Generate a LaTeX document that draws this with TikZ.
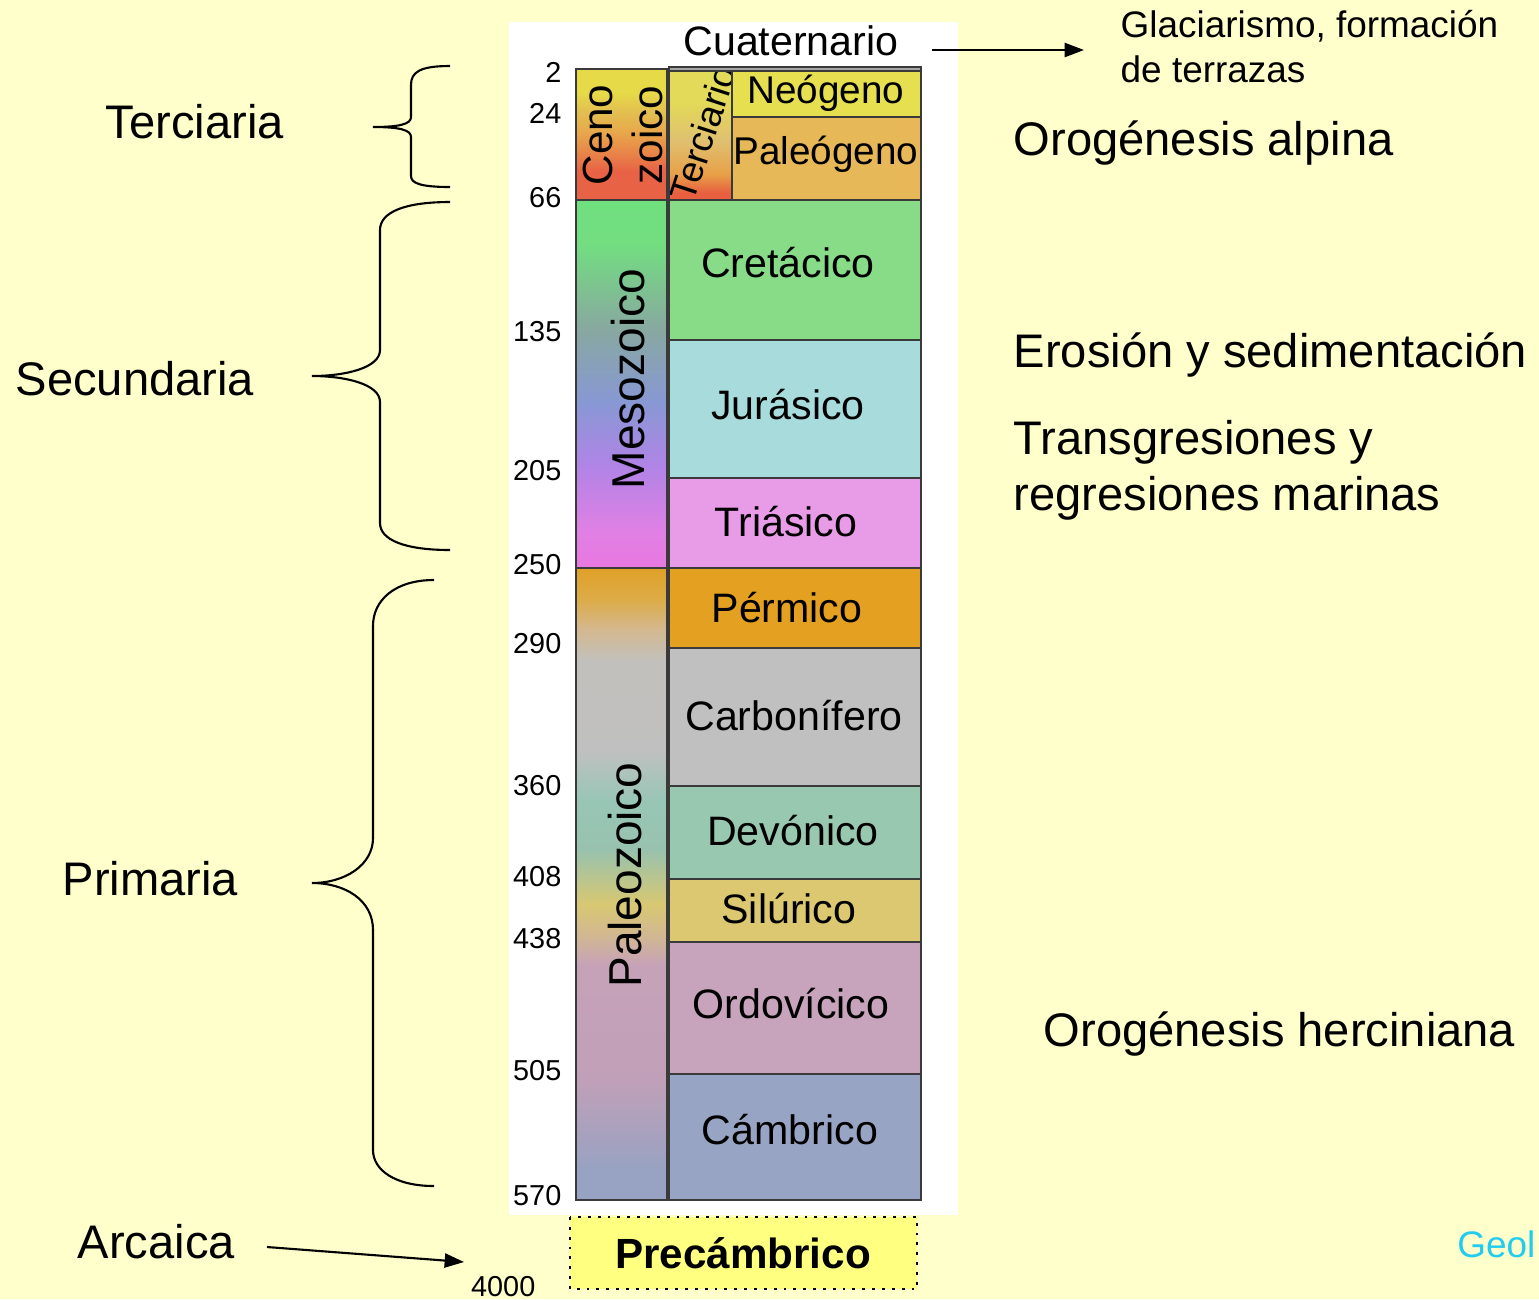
\documentclass[tikz,border=0pt]{standalone}
\usepackage{fontspec}
\setmainfont{Liberation Sans}
\usepackage{graphicx}
\usetikzlibrary{arrows.meta}
\definecolor{bg}{HTML}{FFFFCC}
\definecolor{bord}{HTML}{3A3A3A}
\definecolor{cneo}{HTML}{E6E050}
\definecolor{cpaleog}{HTML}{E6B858}
\definecolor{ccret}{HTML}{88DC88}
\definecolor{cjur}{HTML}{A8DCDC}
\definecolor{ctri}{HTML}{E89CE8}
\definecolor{cperm}{HTML}{E4A020}
\definecolor{ccarb}{HTML}{C0C0C0}
\definecolor{cdev}{HTML}{98C8B0}
\definecolor{csil}{HTML}{DCC870}
\definecolor{cord}{HTML}{C8A4BC}
\definecolor{ccamb}{HTML}{98A4C4}
\definecolor{cprec}{HTML}{FFFF80}
\definecolor{cgeol}{HTML}{22CCEE}
% cenozoic
\definecolor{czy}{HTML}{E6DA48}
\definecolor{czt}{HTML}{E2C050}
\definecolor{czo}{HTML}{E8A84C}
\definecolor{czoo}{HTML}{E88048}
\definecolor{czr}{HTML}{E86245}
% terciario
\definecolor{tcy}{HTML}{E2DA58}
\definecolor{tct}{HTML}{E0C070}
\definecolor{tco}{HTML}{E8A048}
\definecolor{tcr}{HTML}{E86040}
% mesozoic
\definecolor{mzg}{HTML}{70E07E}
\definecolor{mzg2}{HTML}{72DE80}
\definecolor{mzt}{HTML}{88A8A0}
\definecolor{mzb}{HTML}{8898D4}
\definecolor{mzp}{HTML}{B084E6}
\definecolor{mzk}{HTML}{E080E4}
\definecolor{mzk2}{HTML}{E878E0}
% paleozoic
\definecolor{pz1}{HTML}{E0A028}
\definecolor{pz2}{HTML}{DCAC48}
\definecolor{pz3}{HTML}{D4B890}
\definecolor{pz4}{HTML}{C2C0BC}
\definecolor{pz5}{HTML}{C0C0C0}
\definecolor{pz6}{HTML}{98C6B6}
\definecolor{pz7}{HTML}{98C2AE}
\definecolor{pz8}{HTML}{D8C872}
\definecolor{pz9}{HTML}{D2B890}
\definecolor{pz10}{HTML}{C6A2B8}
\definecolor{pz11}{HTML}{C0A0B8}
\definecolor{pz12}{HTML}{98A2C2}
\pgfdeclareverticalshading{cenoshade}{100bp}{color(0bp)=(czr); color(36bp)=(czr); color(42bp)=(czoo); color(51bp)=(czo); color(59bp)=(czt); color(66bp)=(czy); color(100bp)=(czy)}
\pgfdeclareverticalshading{tercshade}{100bp}{color(0bp)=(tcr); color(28bp)=(tcr); color(35bp)=(tco); color(48bp)=(tct); color(63bp)=(tcy); color(100bp)=(tcy)}
\pgfdeclareverticalshading{mesoshade}{100bp}{color(0bp)=(mzk2); color(25bp)=(mzk2); color(30bp)=(mzk); color(39bp)=(mzp); color(47.5bp)=(mzb); color(57.5bp)=(mzt); color(69bp)=(mzg2); color(75bp)=(mzg); color(100bp)=(mzg)}
\pgfdeclareverticalshading{paleoshade}{100bp}{color(0bp)=(pz12); color(27.4bp)=(pz12); color(34.5bp)=(pz11); color(43.6bp)=(pz10); color(46bp)=(pz9); color(48.4bp)=(pz8); color(52.7bp)=(pz7); color(56.6bp)=(pz6); color(60.6bp)=(pz5); color(67.7bp)=(pz4); color(70.1bp)=(pz3); color(72.5bp)=(pz2); color(75bp)=(pz1); color(100bp)=(pz1)}
\begin{document}
\begin{tikzpicture}[x=0.01cm,y=-0.01cm,
  big/.style={font=\fontsize{13.4}{16}\selectfont, inner sep=0pt, anchor=base west},
  mid/.style={font=\fontsize{10.5}{12.5}\selectfont, inner sep=0pt, anchor=base west},
  per/.style={font=\fontsize{11.7}{14}\selectfont, inner sep=0pt},
  num/.style={font=\fontsize{8.2}{10}\selectfont, inner sep=0pt, anchor=east},
  era/.style={font=\fontsize{13.1}{15}\selectfont, inner sep=0pt, rotate=90},
  box/.style={draw=bord, line width=0.7pt},
  brace/.style={draw=black, line width=0.6pt},
  arr/.style={draw=black, line width=0.6pt, -{Triangle[length=5.5pt,width=4pt]}}]
\useasboundingbox (0,0) rectangle (1539,1299);
\fill[bg] (0,0) rectangle (1539,1299);
% white panel
\fill[white] (509,22) rectangle (958,1215);
% era column
\shade[shading=cenoshade] (576,69) rectangle (667,200);
\draw[box] (576,69) rectangle (667,200);
\shade[shading=mesoshade] (576,200) rectangle (667,568);
\draw[box] (576,200) rectangle (667,568);
\shade[shading=paleoshade] (576,568) rectangle (667,1200);
\draw[box] (576,568) rectangle (667,1200);
% period column
\fill[gray!70] (669,67) rectangle (921,71);
\draw[box] (669,67) rectangle (921,71);
\shade[shading=tercshade] (669,71) rectangle (732,200);
\begin{scope}
\clip (664,72) rectangle (731,204);
\node[font=\fontsize{10.5}{12}\selectfont, inner sep=0pt, rotate=72] (terc) at (703,133) {Terciario};
\end{scope}
\draw[box] (669,71) rectangle (732,200);
\draw[box, fill=cneo] (732,71) rectangle (921,117);
\draw[box, fill=cpaleog] (732,117) rectangle (921,200);
\draw[box, fill=ccret] (669,200) rectangle (921,340);
\draw[box, fill=cjur] (669,340) rectangle (921,478);
\draw[box, fill=ctri] (669,478) rectangle (921,568);
\draw[box, fill=cperm] (669,568) rectangle (921,648);
\draw[box, fill=ccarb] (669,648) rectangle (921,786);
\draw[box, fill=cdev] (669,786) rectangle (921,879);
\draw[box, fill=csil] (669,879) rectangle (921,942);
\draw[box, fill=cord] (669,942) rectangle (921,1074);
\draw[box, fill=ccamb] (669,1074) rectangle (921,1200);
% Precambrico
\draw[dotted, line width=0.8pt, fill=cprec] (570,1217) rectangle (917,1289);
\node[font=\fontsize{12}{14}\selectfont\bfseries, inner sep=0pt] (prec) at (743,1253) {Precámbrico};
% period labels
\node[per] (cuat) at (791,41) {Cuaternario};
\node[per, font=\fontsize{11}{13}\selectfont] (neo) at (826,93) {Neógeno};
\node[per, font=\fontsize{11}{13}\selectfont] (paleog) at (826,154) {Paleógeno};
\node[per] (cret) at (788,263) {Cretácico};
\node[per] (jur) at (788,405) {Jurásico};
\node[per] (tri) at (786,522) {Triásico};
\node[per] (perm) at (787,608) {Pérmico};
\node[per] (carb) at (794,716) {Carbonífero};
\node[per] (dev) at (793,831) {Devónico};
\node[per] (sil) at (789,909) {Silúrico};
\node[per] (ord) at (791,1004) {Ordovícico};
\node[per] (camb) at (790,1130) {Cámbrico};
% era labels
\node[era] (meso) at (628,379) {Mesozoico};
\node[era] (paleo) at (625,875) {Paleozoico};
\node[era, font=\fontsize{12}{14}\selectfont] (ceno1) at (598,135) {Ceno};
\node[era, font=\fontsize{12}{14}\selectfont] (ceno2) at (647,135) {zoico};
% numbers
\node[num] (n2) at (562,72) {2};
\node[num] (n24) at (562,113) {24};
\node[num] (n66) at (562,198) {66};
\node[num] (n135) at (562,332) {135};
\node[num] (n205) at (562,471) {205};
\node[num] (n250) at (562,565) {250};
\node[num] (n290) at (562,644) {290};
\node[num] (n360) at (562,786) {360};
\node[num] (n408) at (562,877) {408};
\node[num] (n438) at (562,939) {438};
\node[num] (n505) at (562,1071) {505};
\node[num] (n570) at (562,1196) {570};
\node[num] (n4000) at (536,1287) {4000};
% left labels
\node[big] (terciaria) at (105,138) {Terciaria};
\node[big] (secundaria) at (15,395) {Secundaria};
\node[big] (primaria) at (62,895) {Primaria};
\node[big] (arcaica) at (77,1258) {Arcaica};
% braces
\draw[brace] (450,66) .. controls (420,66) and (411,72) .. (411,85) -- (411,117) .. controls (411,124) and (400,127) .. (373,127) .. controls (400,127) and (411,130) .. (411,137) -- (411,176) .. controls (411,183) and (420,187) .. (450,187);
\draw[brace] (450,202) .. controls (405,202) and (380,212) .. (380,230) -- (380,350) .. controls (380,368) and (345,376) .. (312,376) .. controls (345,376) and (380,384) .. (380,402) -- (380,523) .. controls (380,540) and (405,550) .. (450,550);
\draw[brace] (434,580) .. controls (395,580) and (373,600) .. (373,626) -- (373,838) .. controls (373,865) and (345,883) .. (312,883) .. controls (345,883) and (373,900) .. (373,930) -- (373,1150) .. controls (373,1170) and (395,1186) .. (434,1186);
% right labels
\node[mid] (glac1) at (1120,37) {Glaciarismo, formación};
\node[mid] (glac2) at (1120,82) {de terrazas};
\node[big] (alp) at (1013,155) {Orogénesis alpina};
\node[big] (eros) at (1013,367) {Erosión y sedimentación};
\node[big] (trans1) at (1013,454) {Transgresiones y};
\node[big] (trans2) at (1013,510) {regresiones marinas};
\node[big] (herc) at (1043,1046) {Orogénesis herciniana};
\node[mid, text=cgeol, anchor=base east] (geol) at (1536,1257) {Geol};
% arrows
\coordinate (qa) at (932,50);
\coordinate (qb) at (1084,50);
\draw[arr] (qa) -- (qb);
\coordinate (aa) at (267,1247);
\coordinate (ab) at (464,1262);
\draw[arr] (aa) -- (ab);
\end{tikzpicture}
\end{document}
